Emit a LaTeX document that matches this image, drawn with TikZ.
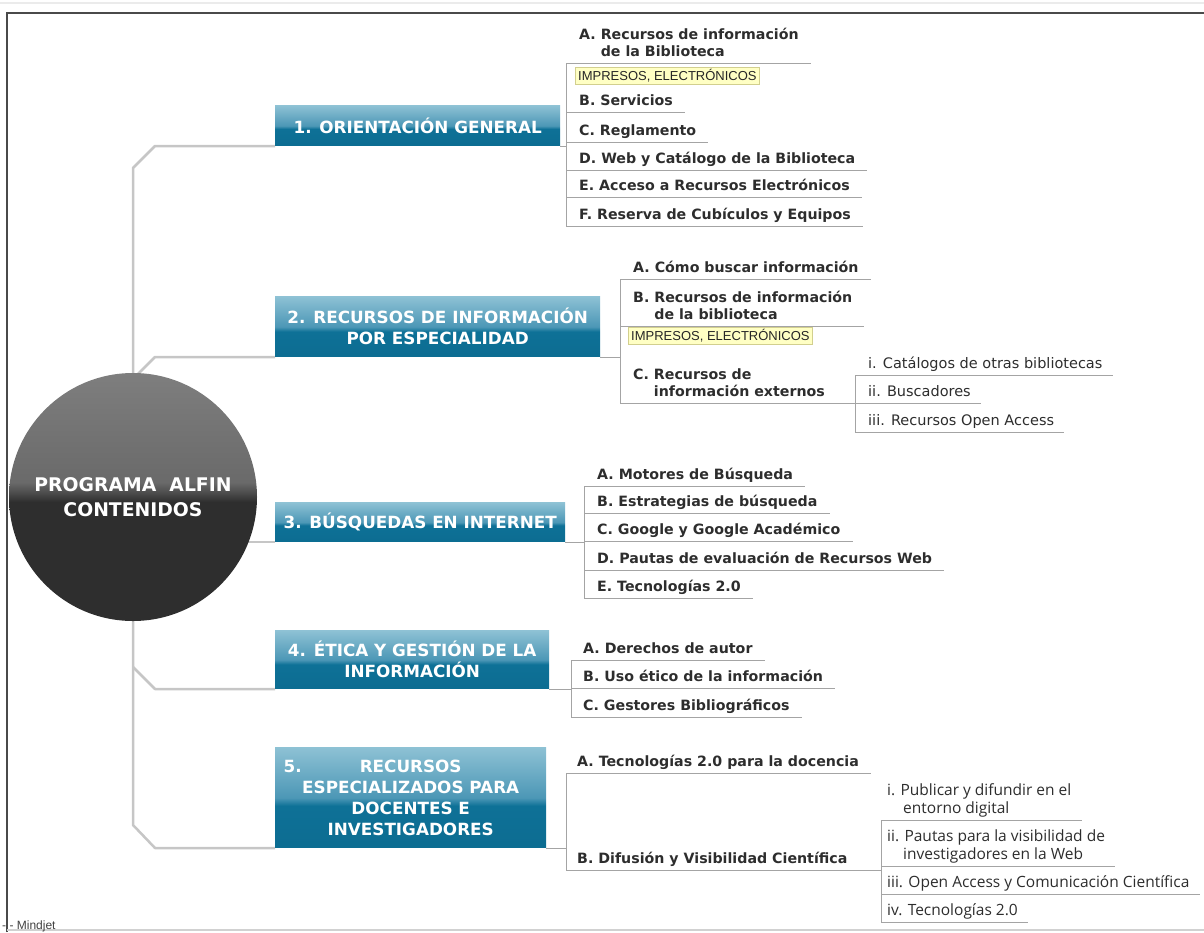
\documentclass[tikz,border=0pt]{standalone}
\usepackage{fontspec}
\setmainfont{DejaVu Sans}
\newfontfamily\notefont{Liberation Sans}
\newfontfamily\twigfont{Open Sans}
\usetikzlibrary{backgrounds}

\definecolor{topicdark}{HTML}{0A678B}
\definecolor{topicdarktwo}{HTML}{0E7197}
\definecolor{topicmid}{HTML}{4C97B6}
\definecolor{topiclight}{HTML}{8DC1D4}
\definecolor{rootdark}{HTML}{2E2E2E}
\definecolor{rootmid}{HTML}{4E4E4E}
\definecolor{rootgray}{HTML}{6A6A6A}
\definecolor{rootlight}{HTML}{7E7E7E}
\definecolor{trunkgray}{HTML}{C6C6C6}
\definecolor{twiggray}{HTML}{A4A4A4}
\definecolor{leafgray}{HTML}{2D2D2D}
\definecolor{notefill}{HTML}{FFFFC4}
\definecolor{noteline}{HTML}{D2CF8E}
\definecolor{framegray}{HTML}{4A4A4A}

\pgfdeclareverticalshading{topicshade}{100bp}{color(0bp)=(topicdark); color(46bp)=(topicdarktwo); color(50bp)=(topicmid); color(75bp)=(topiclight); color(100bp)=(topiclight)}
\pgfdeclareverticalshading{rootshade}{100bp}{color(0bp)=(rootdark); color(49bp)=(rootdark); color(51bp)=(rootmid); color(53bp)=(rootgray); color(75bp)=(rootlight); color(100bp)=(rootlight)}

\tikzset{
  root/.style={circle, minimum size=248pt, inner sep=0pt, shade, shading=rootshade, text=white,
    font=\fontsize{18.8}{25}\selectfont\bfseries, align=center},
  topic/.style={shade, shading=topicshade, text=white, font=\fontsize{16.8}{21}\selectfont\bfseries,
    align=center, inner sep=0pt, anchor=south west},
  leaf/.style={font=\fontsize{14.2}{17}\selectfont\bfseries, text=leafgray, align=left,
    inner xsep=0pt, inner ysep=2.5pt, text depth=3.5pt, anchor=south west},
  subleaf/.style={leaf, font=\fontsize{14.5}{17}\selectfont},
  twigleaf/.style={leaf, font=\twigfont\fontsize{15.5}{18.5}\selectfont},
  note/.style={fill=notefill, draw=noteline, font=\notefont\fontsize{13}{15}\selectfont,
    text=black!85, inner xsep=3pt, inner ysep=2pt, anchor=north west},
  trunk/.style={draw=trunkgray, line width=2.5pt, line join=round},
  twig/.style={draw=twiggray, line width=1pt}
}

\begin{document}
\begin{tikzpicture}[x=1pt,y=-1pt]
\useasboundingbox (0,0) rectangle (1204,932);

% frame
\draw[black!8, line width=2pt] (0,3) -- (1204,3);
\draw[framegray, line width=1.6pt] (7,932) -- (7,13) -- (1204,13);
\draw[black!18, line width=1.2pt] (7,930) -- (1204,930);
\node[anchor=base west, inner sep=0pt, font=\notefont\fontsize{12}{14}\selectfont, text=black!75] (mindjet) at (2,929) {- - Mindjet};

% central topic and main branches
\node[root] (root) at (133,497) {PROGRAMA\ \ ALFIN\\CONTENIDOS};
\node[topic, minimum width=285pt, minimum height=40pt] (orient) at (275,146) {1. ORIENTACIÓN GENERAL};
\node[topic, minimum width=325pt, minimum height=60pt] (recursos) at (275,357) {2. RECURSOS DE INFORMACIÓN\\POR ESPECIALIDAD};
\node[topic, minimum width=290pt, minimum height=39pt] (busquedas) at (275,542) {3. BÚSQUEDAS EN INTERNET};
\node[topic, minimum width=274pt, minimum height=58pt] (etica) at (275,689) {4. ÉTICA Y GESTIÓN DE LA\\INFORMACIÓN};
\node[topic, minimum width=271pt, minimum height=100pt] (especial) at (275,848) {\makebox[0pt][r]{5.\hspace{58pt}}RECURSOS\\ESPECIALIZADOS PARA\\DOCENTES E\\INVESTIGADORES};

\begin{scope}[on background layer]
  \draw[trunk] (orient.south west) -- ++(-120,0) -- ++(-22,22) -- (root);
  \draw[trunk] (recursos.south west) -- ++(-120,0) -- ++(-22,22);
  \draw[trunk] (busquedas.south west) -- (busquedas.south west -| root.center);
  \draw[trunk] (etica.south west) -- ++(-120,0) -- ++(-22,-22);
  \draw[trunk] (especial.south west) -- ++(-120,0) -- ++(-22,-23) -- (root);
\end{scope}

% 1. orientacion general
\coordinate (orientV) at (566,0);
\node[leaf] (orientA) at (579,63) {A. Recursos de información\\\hphantom{A.} de la Biblioteca};
\node[note] (orientN) at (575,67) {IMPRESOS, ELECTRÓNICOS};
\node[leaf] (orientB) at (579,112) {B. Servicios};
\node[leaf] (orientC) at (579,142) {C. Reglamento};
\node[leaf] (orientD) at (579,170) {D. Web y Catálogo de la Biblioteca};
\node[leaf] (orientE) at (579,197) {E. Acceso a Recursos Electrónicos};
\node[leaf] (orientF) at (579,226) {F. Reserva de Cubículos y Equipos};
\draw[twig] (orient.south east) -- (orient.south east -| orientV);
\draw[twig] (orientA.south -| orientV) -- (orientF.south -| orientV);
\foreach \k in {A,...,F}
  \draw[twig] (orient\k.south -| orientV) -- ([xshift=12pt]orient\k.south east);

% 2. recursos por especialidad
\coordinate (recursosV) at (620,0);
\coordinate (recursosW) at (855,0);
\node[leaf] (recursosA) at (633,279) {A. Cómo buscar información};
\node[leaf] (recursosB) at (633,326) {B. Recursos de información\\\hphantom{B.} de la biblioteca};
\node[note] (recursosN) at (628,327) {IMPRESOS, ELECTRÓNICOS};
\node[leaf] (recursosC) at (633,403) {C. Recursos de\\\hphantom{C.} información externos};
\node[subleaf] (recursosCi) at (868,375) {i. Catálogos de otras bibliotecas};
\node[subleaf] (recursosCii) at (868,403) {ii. Buscadores};
\node[subleaf] (recursosCiii) at (868,432) {iii. Recursos Open Access};
\draw[twig] (recursos.south east) -- (recursos.south east -| recursosV);
\draw[twig] (recursosA.south -| recursosV) -- (recursosC.south -| recursosV);
\foreach \k in {A,B}
  \draw[twig] (recursos\k.south -| recursosV) -- ([xshift=12pt]recursos\k.south east);
\draw[twig] (recursosC.south -| recursosV) -- (recursosC.south -| recursosW);
\draw[twig] (recursosCi.south -| recursosW) -- (recursosCiii.south -| recursosW);
\foreach \k in {Ci,Cii,Ciii}
  \draw[twig] (recursos\k.south -| recursosW) -- ([xshift=10pt]recursos\k.south east);

% 3. busquedas en internet
\coordinate (busquedasV) at (584,0);
\node[leaf] (busquedasA) at (597,486) {A. Motores de Búsqueda};
\node[leaf] (busquedasB) at (597,513) {B. Estrategias de búsqueda};
\node[leaf] (busquedasC) at (597,541) {C. Google y Google Académico};
\node[leaf] (busquedasD) at (597,570) {D. Pautas de evaluación de Recursos Web};
\node[leaf] (busquedasE) at (597,598) {E. Tecnologías 2.0};
\draw[twig] (busquedas.south east) -- (busquedas.south east -| busquedasV);
\draw[twig] (busquedasA.south -| busquedasV) -- (busquedasE.south -| busquedasV);
\foreach \k in {A,...,E}
  \draw[twig] (busquedas\k.south -| busquedasV) -- ([xshift=12pt]busquedas\k.south east);

% 4. etica y gestion
\coordinate (eticaV) at (571,0);
\node[leaf] (eticaA) at (583,660) {A. Derechos de autor};
\node[leaf] (eticaB) at (583,688) {B. Uso ético de la información};
\node[leaf] (eticaC) at (583,717) {C. Gestores Bibliográficos};
\draw[twig] (etica.south east) -- (etica.south east -| eticaV);
\draw[twig] (eticaA.south -| eticaV) -- (eticaC.south -| eticaV);
\foreach \k in {A,B,C}
  \draw[twig] (etica\k.south -| eticaV) -- ([xshift=12pt]etica\k.south east);

% 5. recursos especializados
\coordinate (especialV) at (566,0);
\coordinate (especialW) at (881,0);
\node[leaf] (especialA) at (577,773) {A. Tecnologías 2.0 para la docencia};
\node[leaf] (especialB) at (577,870) {B. Difusión y Visibilidad Científica};
\node[twigleaf] (especialBi) at (887,820) {i. Publicar y difundir en el\\\hphantom{ii.} entorno digital};
\node[twigleaf] (especialBii) at (887,866) {ii. Pautas para la visibilidad de\\\hphantom{ii.} investigadores en la Web};
\node[twigleaf] (especialBiii) at (887,894) {iii. Open Access y Comunicación Científica};
\node[twigleaf] (especialBiv) at (887,922) {iv. Tecnologías 2.0};
\draw[twig] (especial.south east) -- (especial.south east -| especialV);
\draw[twig] (especialA.south -| especialV) -- (especialB.south -| especialV);
\draw[twig] (especialA.south -| especialV) -- ([xshift=12pt]especialA.south east);
\draw[twig] (especialB.south -| especialV) -- (especialB.south -| especialW);
\draw[twig] (especialBi.south -| especialW) -- (especialBiv.south -| especialW);
\foreach \k in {Bi,Bii,Biii,Biv}
  \draw[twig] (especial\k.south -| especialW) -- ([xshift=10pt]especial\k.south east);
\end{tikzpicture}
\end{document}
